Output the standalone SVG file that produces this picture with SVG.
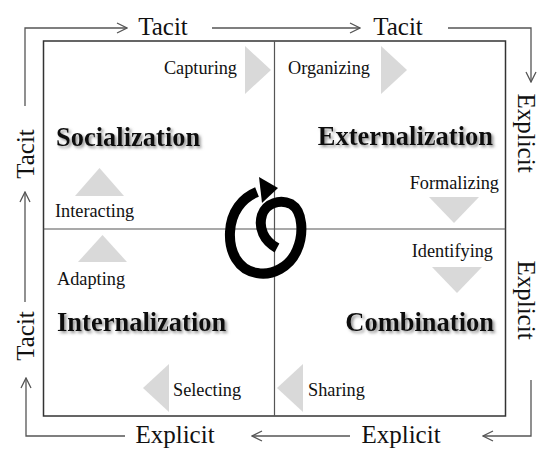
<svg xmlns="http://www.w3.org/2000/svg" width="539" height="450" viewBox="0 0 539 450">
<style>
.flow{fill:none;stroke:#555;stroke-width:1.3}
.grid{fill:none;stroke:#333;stroke-width:1.5}
.div{stroke:#555;stroke-width:1.2}
.big{font-family:"Liberation Serif",serif;font-size:25px;fill:#111}
.title{font-family:"Liberation Serif",serif;font-size:26.5px;font-weight:bold;fill:#111;filter:url(#sh)}
.lab{font-family:"Liberation Serif",serif;font-size:18.3px;fill:#111}
.tri{fill:#d9d9d9}
</style>
<defs>
<marker id="chev" viewBox="0 0 12 12" refX="11" refY="6" markerWidth="12" markerHeight="12" markerUnits="userSpaceOnUse" orient="auto">
<path d="M1,1 L11,6 L1,11" fill="none" stroke="#555" stroke-width="1.3"/>
</marker>
<filter id="sh" x="-10%" y="-30%" width="130%" height="170%">
<feDropShadow dx="2" dy="2" stdDeviation="1.5" flood-color="#777" flood-opacity="0.8"/>
</filter>
</defs>
<rect width="539" height="450" fill="#fff"/>
<g id="connectors">
<polyline class="flow" points="25,106 25,28 127,28" marker-end="url(#chev)"/>
<polyline class="flow" points="212,28 360,28" marker-end="url(#chev)"/>
<polyline class="flow" points="448,28 531,28 531,82" marker-end="url(#chev)"/>
<polyline class="flow" points="531,380 531,436 483,436" marker-end="url(#chev)"/>
<polyline class="flow" points="350,436 252,436" marker-end="url(#chev)"/>
<polyline class="flow" points="125,436 26,436 26,378" marker-end="url(#chev)"/>
<polyline class="flow" points="25,302 25,192" marker-end="url(#chev)"/>
</g>
<g id="grid">
<rect class="grid" x="43.5" y="41" width="462" height="375"/>
<line class="div" x1="274.5" y1="41" x2="274.5" y2="416"/>
<line class="div" x1="43.5" y1="229" x2="505.5" y2="229"/>
</g>
<g id="flow-labels">
<text class="big" x="163" y="35" text-anchor="middle">Tacit</text>
<text class="big" x="398" y="35" text-anchor="middle">Tacit</text>
<text class="big" transform="translate(518,133) rotate(90)" text-anchor="middle">Explicit</text>
<text class="big" transform="translate(518,300) rotate(90)" text-anchor="middle">Explicit</text>
<text class="big" x="401" y="443" text-anchor="middle">Explicit</text>
<text class="big" x="175" y="443" text-anchor="middle">Explicit</text>
<text class="big" transform="translate(34,154) rotate(-90)" text-anchor="middle">Tacit</text>
<text class="big" transform="translate(34,336) rotate(-90)" text-anchor="middle">Tacit</text>
</g>
<g id="socialization">
<text class="title" x="56" y="146">Socialization</text>
<polygon class="tri" points="75,196 124,196 99.5,168"/>
<text class="lab" x="55" y="217">Interacting</text>
<polygon class="tri" points="245,46 245,94 271,70"/>
<text class="lab" x="237" y="74" text-anchor="end">Capturing</text>
</g>
<g id="externalization">
<text class="title" x="493" y="145" text-anchor="end">Externalization</text>
<text class="lab" x="288" y="74">Organizing</text>
<polygon class="tri" points="381,46 381,94 407,70"/>
<text class="lab" x="499" y="189" text-anchor="end">Formalizing</text>
<polygon class="tri" points="429,197 479,197 454,223"/>
</g>
<g id="combination">
<text class="lab" x="493" y="257" text-anchor="end">Identifying</text>
<polygon class="tri" points="432,267 482,267 457,293"/>
<text class="title" x="494" y="331" text-anchor="end">Combination</text>
<polygon class="tri" points="303,364 303,412 277,388"/>
<text class="lab" x="308" y="396">Sharing</text>
</g>
<g id="internalization">
<polygon class="tri" points="78,262 127,262 102.5,235"/>
<text class="lab" x="57" y="285">Adapting</text>
<text class="title" x="57" y="331">Internalization</text>
<polygon class="tri" points="169,364 169,412 143,388"/>
<text class="lab" x="173" y="396">Selecting</text>
</g>
<g id="spiral">
<path d="M277,248 C264,241 258,228 262,215 C266,203 280,199 291,204 C303,211 304,234 297,250 C290,267 272,276 257,273 C238,270 229,252 230,232 C231,212 242,198 257,192" fill="none" stroke="#000" stroke-width="10" stroke-linecap="butt"/>
<polygon points="259,177 278,188 262,203" fill="#000"/>
</g>
</svg>
